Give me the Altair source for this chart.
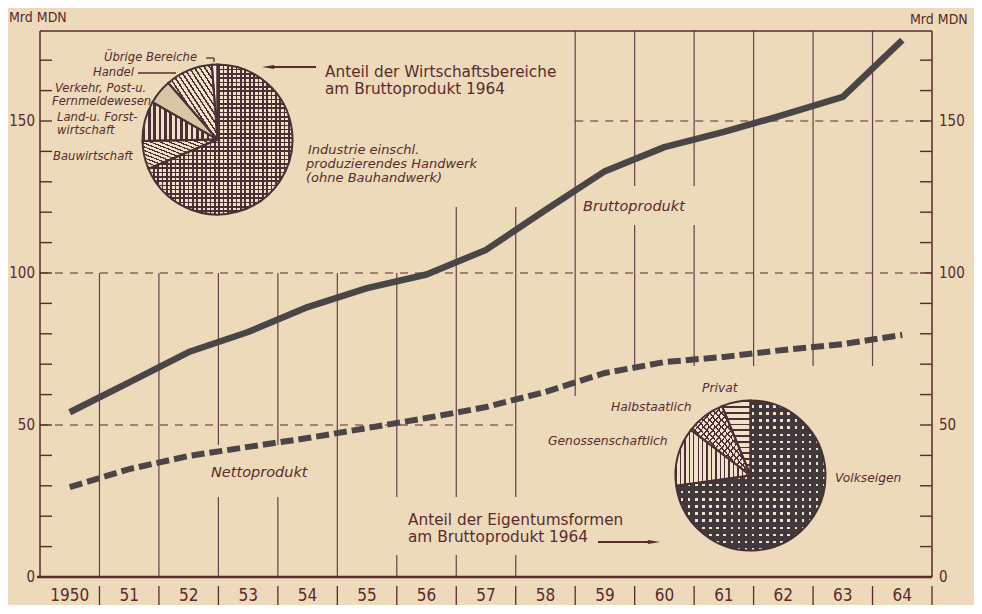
import math
import altair as alt
import pandas as pd

# ---------------- data ----------------
years = list(range(1950, 1965))
year_labels = ["1950", "51", "52", "53", "54", "55", "56", "57", "58", "59",
               "60", "61", "62", "63", "64"]
brutto = [54.2, 64.0, 74.0, 80.6, 88.8, 95.0, 99.5, 107.6, 120.7, 133.5,
          141.4, 146.4, 152.0, 157.9, 176.6]
netto = [29.6, 35.5, 39.8, 42.8, 45.7, 49.0, 52.3, 55.9, 60.9, 67.1,
         70.7, 72.4, 74.7, 76.6, 79.6]

sector_names = ["Industrie", "Bauwirtschaft", "Land- u. Forstwirtschaft",
                "Verkehr, Post- u. Fernmeldewesen", "Handel", "Übrige Bereiche"]
sector_shares = [68.6, 6.1, 8.6, 5.3, 10.2, 1.2]

owner_names = ["Volkseigen", "Genossenschaftlich", "Halbstaatlich", "Privat"]
owner_shares = [72.8, 12.6, 8.4, 6.2]

y_label_values = [0, 50, 100, 150]
y_minor_ticks = list(range(10, 180, 10))
YTOP = 179.6
# dashed reference lines: value, from-year, to-year
ref_lines = [(50, 1949.5, 1957.5), (100, 1949.5, 1964.5), (150, 1958.5, 1964.5)]
# vertical grid segments: boundary, from, to (data units)
grid_segments = [
    (1950.5, 0, 100), (1951.5, 0, 100),
    (1952.5, 0, 26.3), (1952.5, 43.4, 100),
    (1953.5, 0, 26.3), (1953.5, 43.4, 100),
    (1954.5, 0, 100),
    (1955.5, 0, 7.2), (1955.5, 26.3, 100),
    (1956.5, 0, 7.2), (1956.5, 26.3, 121.7),
    (1957.5, 0, 7.2), (1957.5, 26.3, 121.7),
    (1958.5, 59.5, YTOP),
    (1959.5, 69.4, 115.8), (1959.5, 128.6, YTOP),
    (1960.5, 69.4, 115.8), (1960.5, 128.6, YTOP),
    (1961.5, 69.4, YTOP), (1962.5, 69.4, YTOP), (1963.5, 69.4, YTOP),
]

# ---------------- style ----------------
W, H = 892, 546
OX, OY = 40, 31          # page position of plot origin
PAPER = "#ecdabb"
INK = "#5a2a2e"
GRID = "#66404a"
LINEC = "#4a4547"
HATCH = "#4a3034"
DARK = "#3f393b"
LIGHT = "#efe2c8"
CLEAR = "rgba(0,0,0,0)"
FONT_N = "Liberation Sans Narrow, DejaVu Sans Condensed, Liberation Sans, sans-serif"
FONT_A = "DejaVu Sans, Liberation Sans, sans-serif"
R = 75

XS = alt.Scale(domain=[1949.5, 1964.5], nice=False, zero=False)
YS = alt.Scale(domain=[0, YTOP], nice=False, zero=True)
TS = alt.Scale(domain=[0, 100], range=[0, 2 * math.pi])
ONE = alt.Data(values=[{"a": 1}])


def X(f):
    return alt.X(f, type="quantitative", scale=XS, axis=None)


def X2(f):
    return alt.X2(f)


def Y(f):
    return alt.Y(f, type="quantitative", scale=YS, axis=None)


def txt(s, px, py, size=13, italic=True, align="left", font=FONT_A, color=INK):
    return alt.Chart(ONE).mark_text(
        align=align, baseline="middle", fontSize=size,
        fontStyle="italic" if italic else "normal", font=font, color=color
    ).encode(x=alt.value(px - OX), y=alt.value(py - OY), text=alt.value(s))


def seg(px1, py1, px2, py2, width=1.5, color=INK):
    return alt.Chart(ONE).mark_rule(color=color, strokeWidth=width).encode(
        x=alt.value(px1 - OX), y=alt.value(py1 - OY),
        x2=alt.value(px2 - OX), y2=alt.value(py2 - OY))


def arrow_head(px, py, direction, size=150):
    shape = "M1,0L-1,-0.32L-1,0.32Z" if direction == "right" else "M-1,0L1,-0.32L1,0.32Z"
    return alt.Chart(ONE).mark_point(shape=shape, filled=True, color=INK,
                                     size=size, opacity=1).encode(
        x=alt.value(px - OX), y=alt.value(py - OY))


def slice_bbox(a0, a1, r):
    pts = [(0.0, 0.0)]
    for a in (a0, a1):
        pts.append((r * math.sin(a), -r * math.cos(a)))
    k = math.ceil(a0 / (math.pi / 2))
    while k * math.pi / 2 < a1:
        a = k * math.pi / 2
        pts.append((r * math.sin(a), -r * math.cos(a)))
        k += 1
    xs = [p[0] for p in pts]
    ys = [p[1] for p in pts]
    return max(max(xs) - min(xs), 1), max(max(ys) - min(ys), 1)


def stripe_fill(kind, w, h, spacing, frac, color):
    if kind == "v":
        vec, span = (0, 0, 1, 0), w
    elif kind == "h":
        vec, span = (0, 0, 0, 1), h
    elif kind == "d1":
        vec, span = (0, 1, 1, 0), math.sqrt(2) * (w + h) / 2
    else:
        vec, span = (0, 0, 1, 1), math.sqrt(2) * (w + h) / 2
    n = max(1, round(span / spacing))
    stops = []
    for i in range(n):
        a, b, c = i / n, (i + frac) / n, (i + 1) / n
        stops += [{"offset": round(a, 5), "color": color},
                  {"offset": round(b, 5), "color": color},
                  {"offset": round(b, 5), "color": CLEAR},
                  {"offset": round(c, 5), "color": CLEAR}]
    return {"gradient": "linear", "x1": vec[0], "y1": vec[1],
            "x2": vec[2], "y2": vec[3], "stops": stops}


def pie(names, shares, pcx, pcy, base_fills, patterns):
    starts, ends, acc = [], [], 0.0
    for s in shares:
        starts.append(acc)
        acc += s
        ends.append(acc)
    df = pd.DataFrame({"part": names, "start": starts, "end": ends})
    enc = dict(x=alt.value(pcx - OX), y=alt.value(pcy - OY),
               theta=alt.Theta("start:Q", scale=TS, stack=False),
               theta2=alt.Theta2("end:Q"))
    layers = []
    for nm, s0, s1 in zip(names, starts, ends):
        sub = alt.Chart(df).transform_filter(alt.datum.part == nm)
        layers.append(sub.mark_arc(outerRadius=R, fill=base_fills.get(nm, LIGHT)).encode(**enc))
        w, h = slice_bbox(s0 / 100 * 2 * math.pi, s1 / 100 * 2 * math.pi, R)
        for kind, spacing, frac, color in patterns.get(nm, []):
            layers.append(sub.mark_arc(
                outerRadius=R, fill=stripe_fill(kind, w, h, spacing, frac, color)
            ).encode(**enc))
    layers.append(alt.Chart(df).mark_arc(outerRadius=R, fillOpacity=0, stroke=HATCH,
                                         strokeWidth=2).encode(**enc))
    return layers


# ---------------- layers ----------------
layers = []

df_grid = pd.DataFrame(grid_segments, columns=["b", "y1", "y2"])
layers.append(alt.Chart(df_grid).mark_rule(color=GRID, strokeWidth=1.2).encode(
    x=X("b"), y=Y("y1"), y2=alt.Y2("y2")))

df_ref = pd.DataFrame(ref_lines, columns=["v", "x1", "x2"])
layers.append(alt.Chart(df_ref).mark_rule(color=INK, strokeWidth=1.2, strokeDash=[8, 7]).encode(
    y=Y("v"), x=X("x1"), x2=X2("x2")))

df_ticks = pd.DataFrame({"v": y_minor_ticks})
layers.append(alt.Chart(df_ticks).mark_rule(color=INK, strokeWidth=1.4).encode(
    y=Y("v"), x=alt.value(0), x2=alt.value(12)))
layers.append(alt.Chart(df_ticks).mark_rule(color=INK, strokeWidth=1.4).encode(
    y=Y("v"), x=alt.value(W - 12), x2=alt.value(W)))

# frame
layers.append(alt.Chart(ONE).mark_rule(color=INK, strokeWidth=1.5).encode(
    x=alt.value(0), x2=alt.value(W), y=alt.value(0)))
layers.append(alt.Chart(ONE).mark_rule(color=INK, strokeWidth=1.5).encode(
    x=alt.value(0), y=alt.value(0), y2=alt.value(H)))
layers.append(alt.Chart(ONE).mark_rule(color=INK, strokeWidth=1.5).encode(
    x=alt.value(W), y=alt.value(0), y2=alt.value(H)))
layers.append(alt.Chart(ONE).mark_rule(color=INK, strokeWidth=2.6).encode(
    x=alt.value(-3), x2=alt.value(W), y=alt.value(H)))

# axis labels
df_yl = pd.DataFrame({"v": y_label_values})
layers.append(alt.Chart(df_yl).mark_text(align="right", baseline="middle", fontSize=15,
                                         font=FONT_N, color=INK).encode(
    y=Y("v"), x=alt.value(-5), text="v:Q"))
layers.append(alt.Chart(df_yl).mark_text(align="left", baseline="middle", fontSize=15,
                                         font=FONT_N, color=INK).encode(
    y=Y("v"), x=alt.value(W + 7), text="v:Q"))

df_years = pd.DataFrame({"year": years, "label": year_labels})
layers.append(alt.Chart(df_years).mark_text(baseline="middle", fontSize=17, font=FONT_N,
                                            color=INK).encode(
    x=X("year"), y=alt.value(H + 19), text="label:N"))
df_sep = pd.DataFrame({"b": [y + 0.5 for y in years]})
layers.append(alt.Chart(df_sep).mark_rule(color=INK, strokeWidth=1.3).encode(
    x=X("b"), y=alt.value(H + 9), y2=alt.value(H + 34)))

# data lines
df_lines = pd.DataFrame({"year": years, "brutto": brutto, "netto": netto})
layers.append(alt.Chart(df_lines).mark_line(color=LINEC, strokeWidth=6.5, strokeCap="butt",
                                            strokeJoin="round").encode(
    x=X("year"), y=Y("brutto")))
layers.append(alt.Chart(df_lines).mark_line(color=LINEC, strokeWidth=6, strokeCap="butt",
                                            strokeDash=[13, 5]).encode(
    x=X("year"), y=Y("netto")))

# pies
top_patterns = {
    "Industrie": [("v", 4.3, 0.38, HATCH), ("h", 4.3, 0.38, HATCH)],
    "Bauwirtschaft": [("d1", 4.6, 0.35, HATCH)],
    "Land- u. Forstwirtschaft": [("v", 5.5, 0.5, HATCH)],
    "Handel": [("d1", 4.6, 0.35, HATCH)],
}
top_fills = {"Verkehr, Post- u. Fernmeldewesen": "#d9c5a4", "Übrige Bereiche": "#f7f0e2"}
layers += pie(sector_names, sector_shares, 217.5, 139.5, top_fills, top_patterns)

bot_patterns = {
    "Volkseigen": [("v", 7.0, 0.64, DARK), ("h", 7.0, 0.64, DARK)],
    "Genossenschaftlich": [("v", 4.3, 0.3, HATCH)],
    "Halbstaatlich": [("d1", 4.6, 0.3, HATCH), ("d2", 4.6, 0.3, HATCH)],
    "Privat": [("h", 5.8, 0.3, HATCH)],
}
layers += pie(owner_names, owner_shares, 750.5, 475.5, {}, bot_patterns)

# annotations
layers += [
    txt("Mrd MDN", 9, 18, size=14, italic=False, font=FONT_N),
    txt("Mrd MDN", 910, 20, size=14, italic=False, font=FONT_N),
    txt("Übrige Bereiche", 104, 58, size=11.6),
    seg(206, 58, 214, 58, 1.3), seg(214, 58, 214, 62, 1.3),
    txt("Handel", 93, 73, size=11.6),
    seg(138, 73, 176, 73, 1.3),
    txt("Verkehr, Post-u.", 55, 89, size=11.6),
    txt("Fernmeldewesen", 52, 102, size=11.6),
    txt("Land-u. Forst-", 57, 118, size=11.6),
    txt("wirtschaft", 57, 131, size=11.6),
    txt("Bauwirtschaft", 53, 157, size=11.6),
    txt("Anteil der Wirtschaftsbereiche", 325, 72, size=15.3, italic=False),
    txt("am Bruttoprodukt 1964", 325, 89, size=15.3, italic=False),
    seg(268, 67, 316, 67, 1.8),
    arrow_head(268, 67, "left"),
    txt("Industrie einschl.", 308, 150, size=13),
    txt("produzierendes Handwerk", 306, 164, size=13),
    txt("(ohne Bauhandwerk)", 306, 178, size=13),
    txt("Bruttoprodukt", 583, 207, size=14.5),
    txt("Nettoprodukt", 211, 473, size=14.5),
    txt("Privat", 702, 388, size=12.3),
    txt("Halbstaatlich", 611, 407, size=12.3),
    txt("Genossenschaftlich", 548, 441, size=12.3),
    txt("Volkseigen", 835, 478, size=12.3),
    txt("Anteil der Eigentumsformen", 408, 520, size=15.3, italic=False),
    txt("am Bruttoprodukt 1964", 408, 537, size=15.3, italic=False),
    seg(598, 542, 654, 542, 1.8),
    arrow_head(654, 542, "right"),
]

chart = alt.layer(*layers).properties(
    width=W, height=H,
    autosize=alt.AutoSizeParams(type="none"),
    padding={"left": 32, "top": 23, "right": 42, "bottom": 28},
    background=PAPER,
).configure_view(strokeWidth=0)

chart.save("out.html", embed_options={"renderer": "svg", "actions": False})
